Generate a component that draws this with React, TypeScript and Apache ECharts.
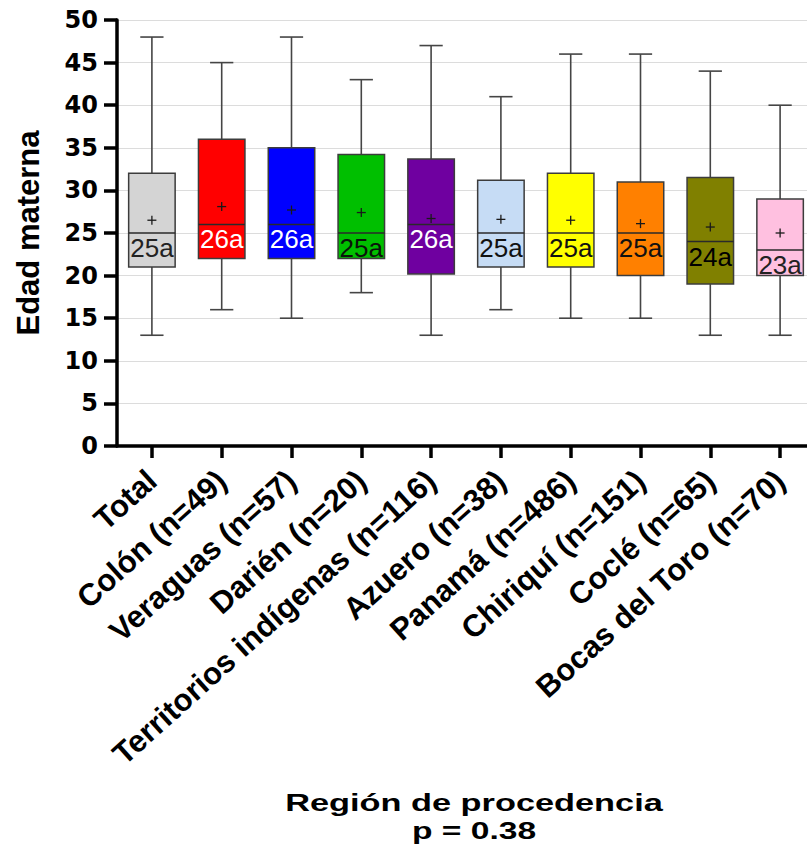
import { useEffect, useRef } from "react";
import * as echarts from "echarts";

const categories = [
  "Total",
  "Colón (n=49)",
  "Veraguas (n=57)",
  "Darién (n=20)",
  "Territorios indígenas (n=116)",
  "Azuero (n=38)",
  "Panamá (n=486)",
  "Chiriquí (n=151)",
  "Coclé (n=65)",
  "Bocas del Toro (n=70)",
];
const minValues = [13, 16, 15, 18, 13, 16, 15, 15, 13, 13];
const q1Values = [21, 22, 22, 22, 20.2, 21, 21, 20, 19, 20];
const medianValues = [25, 26, 26, 25, 26, 25, 25, 25, 24, 23];
const q3Values = [32, 36, 35, 34.2, 33.7, 31.2, 32, 31, 31.5, 29];
const maxValues = [48, 45, 48, 43, 47, 41, 46, 46, 44, 40];
const meanValues = [26.5, 28.1, 27.7, 27.4, 26.7, 26.6, 26.5, 26.1, 25.7, 25];
const medianLabels = ["25a", "26a", "26a", "25a", "26a", "25a", "25a", "25a", "24a", "23a"];
const boxColors = [
  "#d4d4d4",
  "#ff0000",
  "#0000ff",
  "#00bf00",
  "#6f00a0",
  "#c6dcf5",
  "#ffff00",
  "#ff8000",
  "#808000",
  "#ffc0e0",
];
const labelColors = [
  "#222222",
  "#ffffff",
  "#ffffff",
  "#0a140a",
  "#ffffff",
  "#111111",
  "#111111",
  "#111111",
  "#000000",
  "#222222",
];
const yAxisTitle = "Edad materna";
const xAxisTitle = "Región de procedencia";
const pValueText = "p = 0.38";

export default function App() {
  const ref = useRef<HTMLDivElement>(null);

  useEffect(() => {
    if (!ref.current) return;
    const chart = echarts.init(ref.current, undefined, { renderer: "svg" });

    const data = categories.map((_, i) => [
      i,
      minValues[i],
      q1Values[i],
      medianValues[i],
      q3Values[i],
      maxValues[i],
      meanValues[i],
    ]);

    const renderItem = (params: any, api: any) => {
      const i = api.value(0);
      const catW = api.size([1, 0])[0];
      const bw = catW * 0.666;
      const half = bw / 2;
      const cap = bw / 4;
      const x = api.coord([i, 0])[0];
      const yMin = api.coord([i, api.value(1)])[1];
      const yQ1 = api.coord([i, api.value(2)])[1];
      const yMed = api.coord([i, api.value(3)])[1];
      const yQ3 = api.coord([i, api.value(4)])[1];
      const yMax = api.coord([i, api.value(5)])[1];
      const yMean = api.coord([i, api.value(6)])[1];
      const whisk = { stroke: "#454545", lineWidth: 1.6 };
      const idx = params.dataIndex;
      return {
        type: "group",
        children: [
          { type: "line", shape: { x1: x, y1: yMax, x2: x, y2: yQ3 }, style: whisk },
          { type: "line", shape: { x1: x - cap, y1: yMax, x2: x + cap, y2: yMax }, style: whisk },
          { type: "line", shape: { x1: x, y1: yQ1, x2: x, y2: yMin }, style: whisk },
          { type: "line", shape: { x1: x - cap, y1: yMin, x2: x + cap, y2: yMin }, style: whisk },
          {
            type: "rect",
            shape: { x: x - half, y: yQ3, width: bw, height: yQ1 - yQ3 },
            style: { fill: boxColors[idx], stroke: "#3c3c3c", lineWidth: 1.5 },
          },
          {
            type: "line",
            shape: { x1: x - half, y1: yMed, x2: x + half, y2: yMed },
            style: { stroke: "#2a2a2a", lineWidth: 1.5 },
          },
          {
            type: "line",
            shape: { x1: x - 4.5, y1: yMean, x2: x + 4.5, y2: yMean },
            style: { stroke: "#1a1a1a", lineWidth: 1.3 },
          },
          {
            type: "line",
            shape: { x1: x, y1: yMean - 4.5, x2: x, y2: yMean + 4.5 },
            style: { stroke: "#1a1a1a", lineWidth: 1.3 },
          },
          {
            type: "text",
            x: x,
            y: yMed + 2,
            style: {
              text: medianLabels[idx],
              fill: labelColors[idx],
              fontSize: 26,
              fontFamily: '"Liberation Sans", Arial, sans-serif',
              align: "center",
              verticalAlign: "top",
            },
          },
        ],
      };
    };

    chart.setOption({
      animation: false,
      backgroundColor: "#ffffff",
      grid: {
        left: 117,
        top: 20,
        width: 698,
        height: 426,
        containLabel: false,
        outerBoundsMode: "none",
      },
      xAxis: {
        type: "category",
        data: categories,
        boundaryGap: true,
        axisLine: { show: true, lineStyle: { color: "#000", width: 3.5 } },
        axisTick: {
          show: true,
          alignWithLabel: true,
          length: 12,
          lineStyle: { color: "#000", width: 3.5 },
        },
        axisLabel: {
          interval: 0,
          rotate: 42,
          margin: 30,
          color: "#000",
          fontSize: 31,
          fontWeight: "bold",
          fontFamily: '"Liberation Sans", Arial, sans-serif',
        },
        splitLine: { show: false },
      },
      yAxis: {
        type: "value",
        min: 0,
        max: 50,
        interval: 5,
        name: yAxisTitle,
        nameLocation: "middle",
        nameGap: 73,
        nameTextStyle: {
          color: "#000",
          fontSize: 31,
          fontWeight: "bold",
          fontFamily: '"Liberation Sans", Arial, sans-serif',
        },
        axisLine: { show: true, lineStyle: { color: "#000", width: 3.5 } },
        axisTick: { show: true, length: 13, lineStyle: { color: "#000", width: 3.5 } },
        axisLabel: {
          margin: 19,
          color: "#000",
          fontSize: 24,
          fontWeight: "bold",
          fontFamily: '"DejaVu Sans", sans-serif',
        },
        splitLine: { show: true, lineStyle: { color: "#dcdcdc", width: 1 } },
      },
      graphic: [
        {
          type: "text",
          x: 474,
          y: 802,
          scaleX: 1.43,
          style: {
            text: xAxisTitle,
            fill: "#000",
            fontSize: 24,
            fontWeight: "bold",
            fontFamily: '"Liberation Sans", Arial, sans-serif',
            align: "center",
            verticalAlign: "middle",
          },
        },
        {
          type: "text",
          x: 474,
          y: 831,
          scaleX: 1.4,
          style: {
            text: pValueText,
            fill: "#000",
            fontSize: 24,
            fontWeight: "bold",
            fontFamily: '"Liberation Sans", Arial, sans-serif',
            align: "center",
            verticalAlign: "middle",
          },
        },
      ],
      series: [
        {
          type: "custom",
          renderItem,
          data,
          encode: { x: 0, y: [1, 2, 3, 4, 5, 6] },
          clip: false,
        },
      ],
    });

    return () => chart.dispose();
  }, []);

  return (
    <div
      ref={ref}
      style={{ position: "absolute", left: 0, top: 0, width: 807, height: 850 }}
    />
  );
}
